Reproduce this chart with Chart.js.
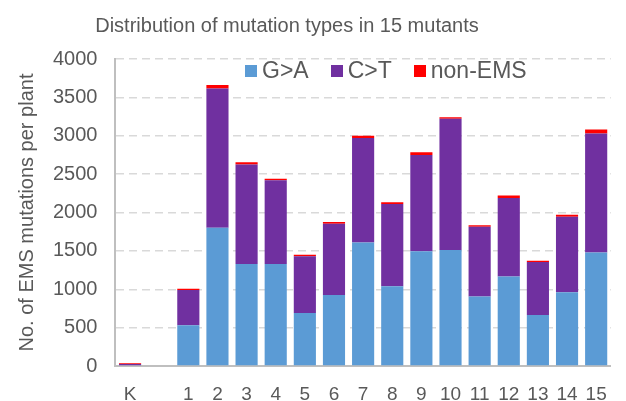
<!DOCTYPE html>
<html>
<head>
<meta charset="utf-8">
<script src="https://cdn.jsdelivr.net/npm/chart.js@4.4.1/dist/chart.umd.min.js"></script>
<style>
  html, body { margin: 0; padding: 0; background: #fff; }
  #wrap { position: relative; width: 626px; height: 401px; overflow: hidden; }
  #wrap canvas { display: block; }
  #title {
    position: absolute; left: 0; top: 14px; width: 574px; text-align: center;
    font-family: "Liberation Sans", Arial, sans-serif; font-size: 20px; color: #595959;
  }
  #legend {
    position: absolute; left: 245px; top: 57px; display: flex; gap: 22px;
    font-family: "Liberation Sans", Arial, sans-serif; font-size: 23px; color: #595959;
  }
  #legend span { display: flex; align-items: center; }
  #legend i { display: inline-block; width: 12px; height: 12px; margin-right: 5px; }
</style>
</head>
<body>
<div id="wrap">
  <div id="title">Distribution of mutation types in 15 mutants</div>
  <div id="legend"></div>
  <canvas id="chart" width="626" height="401"></canvas>
</div>
<script>
// categories (blank slot between the control K and mutant 1)
const labels = ["K", "", "1", "2", "3", "4", "5", "6", "7", "8", "9", "10", "11", "12", "13", "14", "15"];

// mutation counts per plant
const gToA   = [0, null, 530, 1800, 1330, 1330, 690, 925, 1610, 1040, 1495, 1510, 905, 1165, 665, 960, 1480];
const cToT   = [25, null, 460, 1815, 1295, 1090, 740, 930, 1360, 1070, 1255, 1710, 910, 1025, 690, 985, 1550];
const nonEMS = [12, null, 15, 45, 30, 20, 20, 20, 30, 25, 35, 20, 20, 30, 15, 25, 50];

const yTicks = [0, 500, 1000, 1500, 2000, 2500, 3000, 3500, 4000];

const FONT = "'Liberation Sans', Arial, sans-serif";
const GREY = "#595959";

const chart = new Chart(document.getElementById("chart"), {
  type: "bar",
  data: {
    labels: labels,
    datasets: [
      { label: "G>A", data: gToA, backgroundColor: "#5b9bd5" },
      { label: "C>T", data: cToT, backgroundColor: "#7030a0" },
      { label: "non-EMS", data: nonEMS, backgroundColor: "#ff0000" }
    ]
  },
  options: {
    responsive: false,
    animation: false,
    layout: { padding: { top: 59, right: 9, bottom: -22, left: 15 } },
    datasets: { bar: { barPercentage: 0.76, categoryPercentage: 1.0 } },
    plugins: {
      title: { display: false },
      tooltip: { enabled: false },
      legend: { display: false }
    },
    scales: {
      x: {
        stacked: true,
        grid: { display: false, drawTicks: false },
        border: { color: "#bfbfbf", width: 2 },
        ticks: { font: { family: FONT, size: 19, lineHeight: 1 }, color: GREY, padding: 19, maxRotation: 0, autoSkip: false }
      },
      y: {
        stacked: true,
        min: 0,
        max: 4000,
        afterBuildTicks: axis => { axis.ticks = yTicks.map(v => ({ value: v })); },
        grid: { color: "#d9d9d9", lineWidth: 1.5, drawTicks: false },
        border: { color: "#bfbfbf", width: 2, dash: [8, 5] },
        ticks: { font: { family: FONT, size: 20 }, color: GREY, padding: 18, callback: v => String(v) },
        title: {
          display: true,
          text: "No. of EMS mutations per plant",
          font: { family: FONT, size: 20 },
          color: GREY,
          padding: { top: 0, bottom: -4 }
        }
      }
    }
  }
});

// legend drawn as html, inside the plot area like the original
const legend = document.getElementById("legend");
chart.data.datasets.forEach(ds => {
  const item = document.createElement("span");
  const box = document.createElement("i");
  box.style.background = ds.backgroundColor;
  item.appendChild(box);
  item.appendChild(document.createTextNode(ds.label));
  legend.appendChild(item);
});
</script>
</body>
</html>
